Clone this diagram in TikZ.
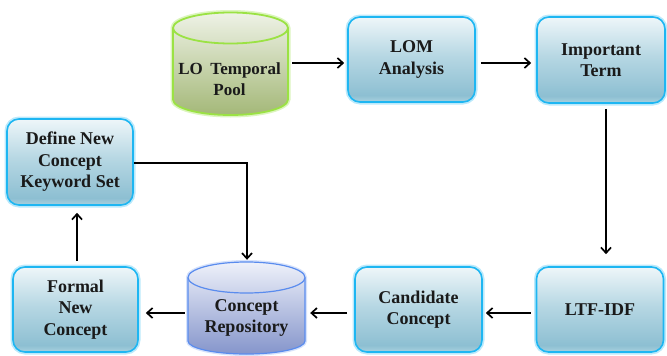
\documentclass[tikz,border=0pt]{standalone}
\usepackage{fontspec}
\setmainfont{Liberation Serif}
\usetikzlibrary{arrows.meta}

\definecolor{boxtop}{HTML}{EEF6F9}
\definecolor{boxmid}{HTML}{B6D7E3}
\definecolor{boxbot}{HTML}{8DBFD2}
\definecolor{boxfoot}{HTML}{A9D1DE}
\definecolor{boxline}{HTML}{1EB6F2}
\definecolor{pooltop}{HTML}{EEF2E6}
\definecolor{poolmid}{HTML}{CAD8AE}
\definecolor{poolbot}{HTML}{A4B878}
\definecolor{poolline}{HTML}{9BE244}
\definecolor{repotop}{HTML}{EEF1FA}
\definecolor{repomid}{HTML}{B4C0E4}
\definecolor{repobot}{HTML}{8595CB}
\definecolor{repoline}{HTML}{5A8CEE}
\definecolor{inktext}{HTML}{1A1A1A}

% box fill: light at the top, deepest just above the lower edge
\pgfdeclareverticalshading{procshade}{100bp}{%
  color(0bp)=(boxfoot); color(25bp)=(boxfoot); color(29bp)=(boxbot);
  color(52bp)=(boxmid); color(75bp)=(boxtop); color(100bp)=(boxtop)}

\tikzset{
  txt/.style={align=center, text=inktext,
    font=\bfseries\fontsize{18}{21.5}\selectfont},
  procbox/.style={txt, rounded corners=12pt, minimum width=127pt,
    minimum height=85pt, draw=boxline, line width=1.6pt,
    shading=procshade,
    preaction={draw=boxline!30, line width=5pt}},
  hull/.style={minimum width=115pt, minimum height=103pt, inner sep=0pt},
  conn/.style={-{Straight Barb[length=5.5pt,width=10pt]}, line width=1.7pt,
    black, line join=miter},
}

\begin{document}
\begin{tikzpicture}[x=1pt,y=1pt]
\useasboundingbox (0,0) rectangle (667,-356);

% LO temporal pool (green cylinder)
\path[preaction={draw=poolline!35, line width=5pt},
      top color=pooltop, middle color=poolmid, bottom color=poolbot,
      draw=poolline, line width=1.8pt]
  (173,-28) -- (173,-99.5)
  arc[start angle=180, end angle=360, x radius=57.5pt, y radius=15.5pt]
  -- (288,-28)
  arc[start angle=0, end angle=180, x radius=57.5pt, y radius=15.5pt] -- cycle;
\draw[poolline, line width=1.8pt] (173,-28)
  arc[start angle=180, end angle=360, x radius=57.5pt, y radius=15.5pt];
\node[hull] (pool) at (230.5,-63.5) {};
\node[txt, font=\bfseries\fontsize{17}{21}\selectfont] (pooltext)
  at (229.5,-79) {LO\hspace{0.45em}Temporal\\Pool};

% concept repository (blue cylinder)
\path[preaction={draw=repoline!25, line width=4pt},
      top color=repotop, middle color=repomid, bottom color=repobot,
      draw=repoline, line width=1.2pt]
  (188,-277.5) -- (188,-341)
  arc[start angle=180, end angle=360, x radius=58.5pt, y radius=13pt]
  -- (305,-277.5)
  arc[start angle=0, end angle=180, x radius=58.5pt, y radius=15.5pt] -- cycle;
\draw[repoline, line width=1.2pt] (188,-277.5)
  arc[start angle=180, end angle=360, x radius=58.5pt, y radius=15.5pt];
\node[hull, minimum width=117pt, minimum height=92pt] (repo) at (246.5,-308) {};
\node[txt] (repotext) at (246.5,-318) {Concept\\Repository};

% process boxes
\node[procbox] (lom)   at (411.5,-59.5) {LOM\\Analysis};
\node[procbox, minimum width=128pt, minimum height=86pt]
               (term)  at (601,-60)     {Important\\Term};
\node[procbox] (ltf)   at (600,-309.5)  {LTF-IDF};
\node[procbox] (cand)  at (418.5,-309.5){Candidate\\Concept};
\node[procbox, minimum width=125pt]
               (formal) at (75.5,-309.5){Formal\\New\\Concept};
\node[procbox, minimum width=126pt, minimum height=86pt]
               (define) at (70,-162)    {Define New\\Concept\\Keyword Set};

% connectors
\draw[conn, shorten <=4pt, shorten >=3pt]
  (pool.east |- 0,-63) -- (lom.west |- 0,-63);
\draw[conn, shorten <=5pt, shorten >=5pt]
  (lom.east |- 0,-63) -- (term.west |- 0,-63);
\draw[conn, shorten <=5pt, shorten >=12pt]
  (term.south -| 606,0) -- (ltf.north -| 606,0);
\draw[conn, shorten <=5pt, shorten >=3pt]
  (ltf.west |- 0,-313) -- (cand.east |- 0,-313);
\draw[conn, shorten <=7pt, shorten >=5pt]
  (cand.west |- 0,-313) -- (repo.east |- 0,-313);
\draw[conn, shorten <=3pt, shorten >=7pt]
  (repo.west |- 0,-313) -- (formal.east |- 0,-313);
\draw[conn, shorten <=5pt, shorten >=7pt]
  (formal.north -| 77,0) -- (define.south -| 77,0);
\draw[conn, shorten >=2pt]
  (define.east |- 0,-163) -| (repo.north -| 247,0);
\end{tikzpicture}
\end{document}
